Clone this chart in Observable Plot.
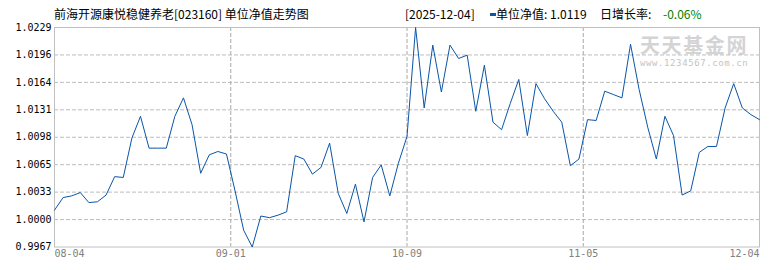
<!DOCTYPE html>
<html>
<head>
<meta charset="utf-8">
<script src="https://cdn.jsdelivr.net/npm/d3@7"></script>
<script src="https://cdn.jsdelivr.net/npm/@observablehq/plot@0.6"></script>
<style>
  html, body { margin: 0; padding: 0; background: #fff; }
  #wrap { position: relative; width: 770px; height: 270px; overflow: hidden; }
  #wrap svg { position: absolute; left: 0; top: 0; z-index: 1; background: transparent; }
  .hdr { position: absolute; top: 6px; line-height: 16px; font-size: 12px; font-family: "Noto Sans CJK SC", sans-serif; color: #000; white-space: pre; z-index: 2; }
  .wm { position: absolute; z-index: 0; white-space: pre; }
</style>
</head>
<body>
<div id="wrap"></div>
<script>
const fundName = "前海开源康悦稳健养老";
const fundCode = "023160";
const chartTitle = "单位净值走势图";
const lastDate = "2025-12-04";
const seriesName = "单位净值";
const changeLabel = "日增长率";

// unit NAV per trading day, 2025-08-04 .. 2025-12-04
const nav = [
  1.0011, 1.0026, 1.0028, 1.0032, 1.0020, 1.0021, 1.0029, 1.0051, 1.0050, 1.0097,
  1.0123, 1.0085, 1.0085, 1.0085, 1.0123, 1.0145, 1.0113, 1.0055, 1.0077, 1.0081,
  1.0078, 1.0034, 0.9987, 0.9967, 1.0004, 1.0002, 1.0005, 1.0009, 1.0076, 1.0072,
  1.0054, 1.0062, 1.0091, 1.0031, 1.0007, 1.0042, 0.9997, 1.0050, 1.0065, 1.0028,
  1.0067, 1.0099, 1.0229, 1.0133, 1.0208, 1.0152, 1.0208, 1.0192, 1.0196, 1.0129,
  1.0184, 1.0116, 1.0107, 1.0138, 1.0167, 1.0100, 1.0162, 1.0144, 1.0129, 1.0116,
  1.0064, 1.0072, 1.0119, 1.0118, 1.0153, 1.0149, 1.0145, 1.0209, 1.0155, 1.0110,
  1.0072, 1.0123, 1.0100, 1.0029, 1.0034, 1.0080, 1.0087, 1.0087, 1.0133, 1.0162,
  1.0133, 1.0125, 1.0119
];
const xTickLabels = ["08-04", "09-01", "10-09", "11-05", "12-04"];

const data = nav.map((v, i) => ({i, v}));
const n = nav.length;
const yMin = d3.min(nav), yMax = d3.max(nav);
const yTicks = d3.range(9).map(k => yMin + k * (yMax - yMin) / 8);
const xTicks = xTickLabels.map((_, k) => k * (n - 1) / 4);
const xt = xTicks.map((x, k) => ({x, label: xTickLabels[k]}));
const lineColor = "#0a55a8";

const chart = Plot.plot({
  width: 770,
  height: 270,
  marginLeft: 54,
  marginRight: 11,
  marginTop: 27,
  marginBottom: 23.5,
  style: {fontFamily: "'DejaVu Sans Mono', monospace", fontSize: "10px", background: "transparent"},
  x: {domain: [0, n - 1], axis: null},
  y: {domain: [yMin, yMax], axis: null},
  marks: [
    Plot.ruleY(yTicks.slice(1, -1), {stroke: "#bdbdbd", strokeDasharray: "4,2", strokeWidth: 1}),
    Plot.ruleX(xTicks.slice(1, -1), {stroke: "#a8a8a8", strokeDasharray: "4,2", strokeWidth: 1}),
    Plot.frame({stroke: "#c0c0c0"}),
    Plot.axisY(yTicks, {tickSize: 0, tickPadding: 3, label: null, tickFormat: d => d3.format(".4f")(d + 1e-9), fill: "#000", fontSize: 10}),
    Plot.text(xt.slice(0, 1), {x: "x", text: "label", frameAnchor: "bottom", dy: 10, textAnchor: "start", fill: "#808080", fontSize: 10}),
    Plot.text(xt.slice(1, -1), {x: "x", text: "label", frameAnchor: "bottom", dy: 10, textAnchor: "middle", fill: "#808080", fontSize: 10}),
    Plot.text(xt.slice(-1), {x: "x", text: "label", frameAnchor: "bottom", dy: 10, textAnchor: "end", fill: "#808080", fontSize: 10}),
    Plot.line(data, {x: "i", y: "v", stroke: lineColor, strokeWidth: 1})
  ]
});

const wrap = document.getElementById("wrap");
wrap.appendChild(chart);

const last = nav[n - 1], prev = nav[n - 2];
const chg = (last / prev - 1) * 100;

function span(cls, left, text, extra) {
  const s = document.createElement("div");
  s.className = cls;
  s.style.left = left + "px";
  s.textContent = text;
  if (extra) Object.assign(s.style, extra);
  wrap.appendChild(s);
  return s;
}
span("hdr", 54, `${fundName}[${fundCode}] ${chartTitle}`);
span("hdr", 405, `[${lastDate}]`);
const sw = document.createElement("div");
Object.assign(sw.style, {position: "absolute", left: "490px", top: "13px", width: "6px", height: "3px", background: lineColor, zIndex: 2});
wrap.appendChild(sw);
span("hdr", 496, `${seriesName}: ${last.toFixed(4)}`);
span("hdr", 600, `${changeLabel}:`);
span("hdr", 663, `${chg.toFixed(2)}%`, {color: "#008000"});

// watermark
span("wm", 640, "天天基金网", {top: "35px", fontSize: "20px", fontWeight: "bold", letterSpacing: "1.6px", color: "#d4d4d4", fontFamily: "'Noto Sans CJK SC', sans-serif", lineHeight: "20px"});
span("wm", 640, "www.1234567.com.cn", {top: "58px", fontSize: "9px", letterSpacing: "0.6px", color: "#c4c4c4", fontFamily: "'DejaVu Sans Mono', monospace", lineHeight: "10px"});
</script>
</body>
</html>
